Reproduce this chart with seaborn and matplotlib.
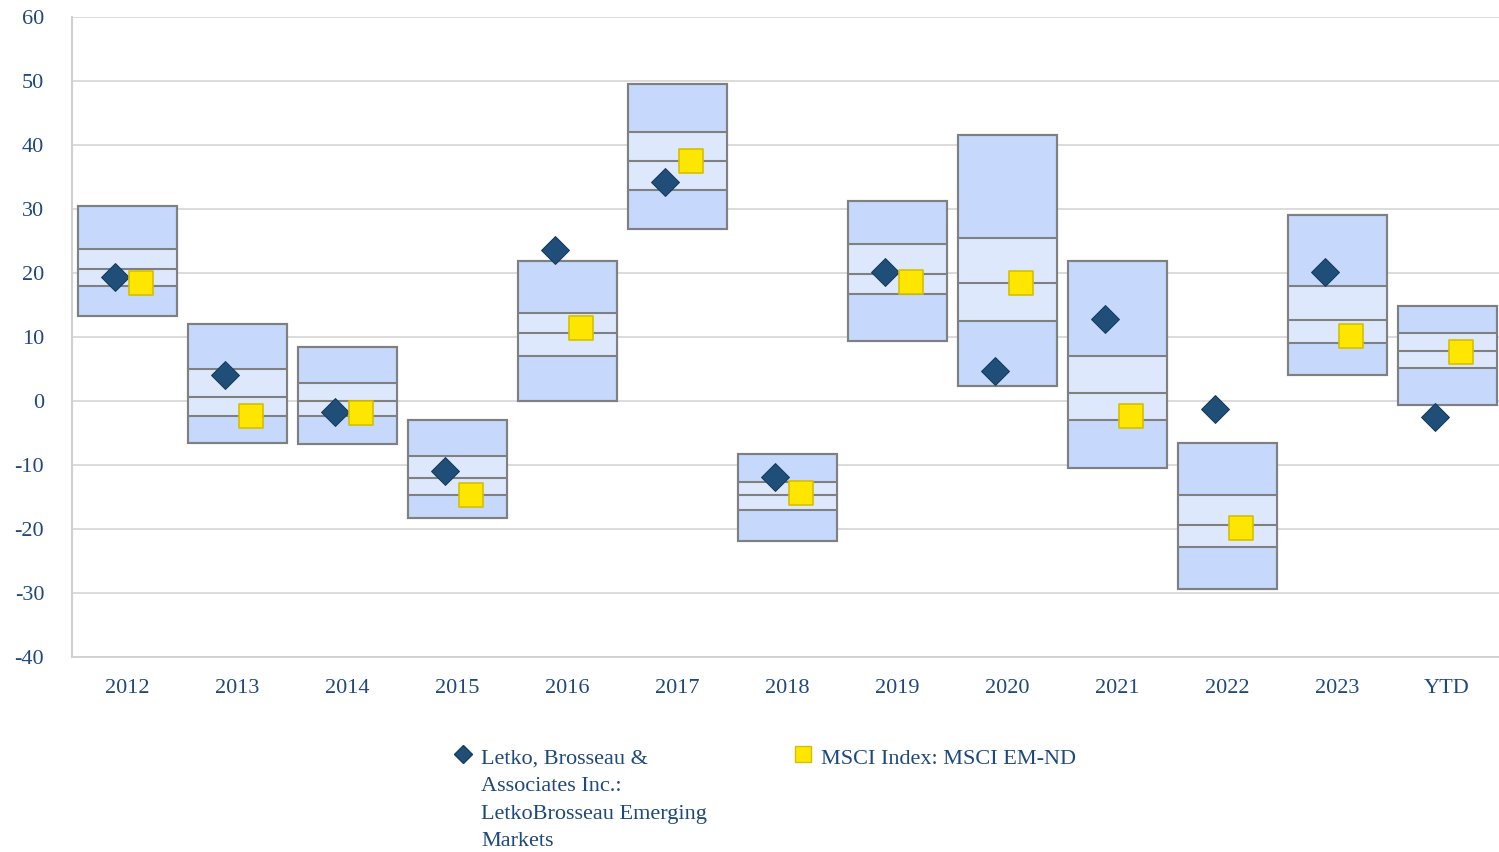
import numpy as np
import pandas as pd
import matplotlib.pyplot as plt
import seaborn as sns
from matplotlib.lines import Line2D

# percentile bands per period (5th, 25th, median, 75th, 95th)
periods = ['2012', '2013', '2014', '2015', '2016', '2017', '2018',
           '2019', '2020', '2021', '2022', '2023', 'YTD']
p95 = [30.5, 12.0, 8.4, -3.0, 21.9, 49.5, -8.3, 31.2, 41.6, 21.8, -6.5, 29.0, 14.8]
p75 = [23.7, 5.0, 2.8, -8.6, 13.7, 42.0, -12.7, 24.5, 25.4, 7.0, -14.7, 17.9, 10.6]
p50 = [20.6, 0.6, 0.0, -12.0, 10.6, 37.5, -14.7, 19.8, 18.5, 1.2, -19.3, 12.7, 7.8]
p25 = [18.0, -2.3, -2.3, -14.7, 7.0, 32.9, -17.0, 16.7, 12.5, -3.0, -22.8, 9.1, 5.1]
p05 = [13.3, -6.5, -6.7, -18.3, 0.0, 26.8, -21.9, 9.4, 2.4, -10.5, -29.4, 4.0, -0.6]

fund = [19.3, 4.1, -1.7, -10.9, 23.6, 34.2, -11.9, 20.2, 4.7, 12.8, -1.3, 20.1, -2.5]
index = [18.4, -2.4, -1.9, -14.7, 11.4, 37.5, -14.4, 18.6, 18.5, -2.3, -19.9, 10.1, 7.7]

fund_label = 'Letko, Brosseau &\nAssociates Inc.:\nLetkoBrosseau Emerging\nMarkets'
index_label = 'MSCI Index: MSCI EM-ND'

TXT = '#1F497D'
OUTER = '#c6d9fc'
INNER = '#dee8fd'
EDGE = '#808080'
GRID = '#d9d9d9'

sns.set_theme(style='white')
plt.rcParams['font.family'] = ['Liberation Serif', 'DejaVu Serif']

fig = plt.figure(figsize=(14.99, 8.52), dpi=100)
ax = fig.add_axes([72 / 1499, 195 / 852, 1430 / 1499, 640 / 852])

x = np.arange(len(periods))
w = 0.9
lo = np.array(p05)
hi = np.array(p95)
q1 = np.array(p25)
q3 = np.array(p75)

ax.bar(x, hi - lo, bottom=lo, width=w, color=OUTER, edgecolor=EDGE, linewidth=1.5, zorder=2)
ax.bar(x, q3 - q1, bottom=q1, width=w, color=INNER, edgecolor='none', linewidth=0, zorder=2)
for arr in (p25, p50, p75):
    ax.hlines(arr, x - w / 2, x + w / 2, color=EDGE, linewidth=1.5, zorder=3)
# redraw outline over inner band
ax.bar(x, hi - lo, bottom=lo, width=w, color='none', edgecolor=EDGE, linewidth=1.5, zorder=3)

df = pd.DataFrame({'pos': x, 'fund': fund, 'index': index})
sns.scatterplot(data=df.assign(pos=df['pos'] - 0.11), x='pos', y='fund', marker='D', s=200,
                color='#1F4E79', edgecolor='#173d60', linewidth=0.8, zorder=5, ax=ax, legend=False)
sns.scatterplot(data=df.assign(pos=df['pos'] + 0.125), x='pos', y='index', marker='s', s=300,
                color='#FFE600', edgecolor='#d4c000', linewidth=1.2, zorder=5, ax=ax, legend=False)

ax.set_xlim(-0.5, len(periods) - 0.5)
ax.set_ylim(-40, 60)
ax.set_yticks(np.arange(-40, 61, 10))
ax.set_yticklabels([str(v) for v in range(-40, 61, 10)])
ax.set_xticks(x)
ax.set_xticklabels(periods)
ax.set_xticks(np.arange(-0.5, len(periods), 1), minor=True)
ax.set_xlabel('')
ax.set_ylabel('')

ax.yaxis.grid(True, color=GRID, linewidth=1.3, zorder=0)
ax.set_axisbelow(True)
for s in ('top', 'right'):
    ax.spines[s].set_visible(False)
ax.spines['left'].set_color('#d0d0d0')
ax.spines['left'].set_linewidth(1.5)
ax.spines['bottom'].set_color('#d0d0d0')
ax.spines['bottom'].set_linewidth(1.3)

ax.tick_params(axis='y', length=0, pad=20, labelsize=16, labelcolor=TXT)
ax.tick_params(axis='x', which='major', length=0, pad=16, labelsize=16, labelcolor=TXT)
ax.tick_params(axis='x', which='minor', length=11.5, width=1.3, color='#d0d0d0', direction='out')

# legend
fig.add_artist(Line2D([463 / 1499], [1 - 754 / 852], marker='D', markersize=9,
                      color='#1F4E79', markeredgecolor='#173d60', linestyle='none',
                      transform=fig.transFigure))
fig.add_artist(Line2D([803 / 1499], [1 - 754 / 852], marker='s', markersize=11.5,
                      color='#FFE600', markeredgecolor='#d4c000', linestyle='none',
                      transform=fig.transFigure))
fig.text(481 / 1499, 1 - 750 / 852, fund_label, fontsize=16, color=TXT, va='top', ha='left',
         linespacing=1.6)
fig.text(821 / 1499, 1 - 750 / 852, index_label, fontsize=16, color=TXT, va='top', ha='left')

fig.savefig('out.png', dpi=100)
